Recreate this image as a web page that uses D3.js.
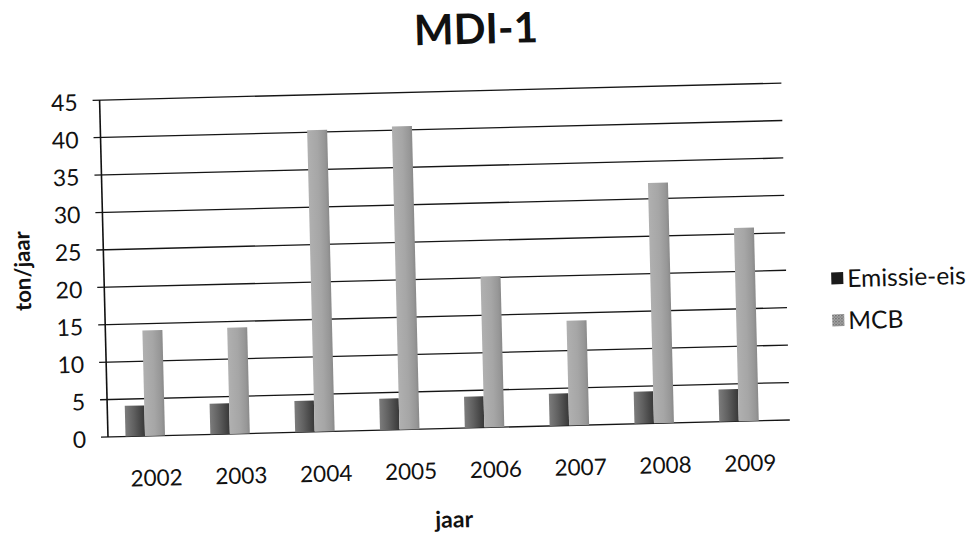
<!DOCTYPE html>
<html><head><meta charset="utf-8">
<script src="https://cdn.jsdelivr.net/npm/d3@7"></script>
<style>body{margin:0;background:#fff} text{font-family:Lato,'Open Sans',sans-serif;fill:#111}</style>
</head><body><svg id="c" width="977" height="534"></svg>
<script>
const years = ["2002","2003","2004","2005","2006","2007","2008","2009"];
const emissie = [4.1,4.1,4.2,4.2,4.2,4.3,4.3,4.3];
const mcb = [14.1,14.2,40.3,40.5,20.2,14.0,32.1,25.8];
const seriesNames = ["Emissie-eis","MCB"];
const yTicks = [0,5,10,15,20,25,30,35,40,45];

const svg = d3.select("#c");
const defs = svg.append("defs");
const g1 = defs.append("linearGradient").attr("id","gE");
[["0%","#7c7c7c"],["45%","#606060"],["100%","#383838"]].forEach(s=>g1.append("stop").attr("offset",s[0]).attr("stop-color",s[1]));
const g2 = defs.append("linearGradient").attr("id","gM");
[["0%","#b0b0b0"],["50%","#a6a6a6"],["85%","#979797"],["100%","#8a8a8a"]].forEach(s=>g2.append("stop").attr("offset",s[0]).attr("stop-color",s[1]));
const pat = defs.append("pattern").attr("id","pM").attr("width",3).attr("height",3).attr("patternUnits","userSpaceOnUse");
pat.append("rect").attr("width",3).attr("height",3).attr("fill","#bbb");
pat.append("rect").attr("width",1.5).attr("height",1.5).attr("fill","#555");
pat.append("rect").attr("x",1.5).attr("y",1.5).attr("width",1.5).attr("height",1.5).attr("fill","#777");

const root = svg.append("g").attr("transform","rotate(-1.43,108,437)");

const y = d3.scaleLinear().domain([0,45]).range([437,100]);
const x = d3.scaleBand().domain(years).range([102.6,781.4]);
const xs = d3.scaleBand().domain(seriesNames).range([-19.5,19.5]).padding(0);

// gridlines
root.append("g").selectAll("line").data(yTicks).join("line")
  .attr("x1",101).attr("x2",790)
  .attr("y1",d=>y(d)).attr("y2",d=>y(d))
  .attr("stroke","#151515").attr("stroke-width",1.3);
// axis line
root.append("line").attr("x1",108).attr("x2",108).attr("y1",y(45)).attr("y2",y(0))
  .attr("stroke","#111").attr("stroke-width",1.6);

// y tick labels
root.append("g").selectAll("text").data(yTicks).join("text")
  .attr("x",86).attr("y",d=>y(d)+1).attr("text-anchor","end")
  .attr("dominant-baseline","central").attr("font-size",23).text(d=>d);

// bars
const groups = root.append("g").selectAll("g").data(years).join("g")
  .attr("transform",d=>`translate(${x(d)+x.bandwidth()/2},0)`);
groups.append("rect")
  .attr("x",xs("Emissie-eis")).attr("width",xs.bandwidth())
  .attr("y",(d,i)=>y(emissie[i])).attr("height",(d,i)=>y(0)-y(emissie[i]))
  .attr("fill","url(#gE)");
groups.append("rect")
  .attr("x",xs("MCB")).attr("width",xs.bandwidth()+0.5)
  .attr("y",(d,i)=>y(mcb[i])).attr("height",(d,i)=>y(0)-y(mcb[i]))
  .attr("fill","url(#gM)");

// x labels
root.append("g").selectAll("text").data(years).join("text")
  .attr("x",d=>x(d)+x.bandwidth()/2+10.5).attr("y",487)
  .attr("text-anchor","middle").attr("font-size",22.5).text(d=>d);

// titles
root.append("text").attr("x",486).attr("y",53).attr("text-anchor","middle")
  .attr("font-size",42).attr("font-weight","bold").text("MDI-1");
root.append("text").attr("transform","translate(26,269) rotate(-90)")
  .attr("text-anchor","middle").attr("dominant-baseline","central")
  .attr("font-size",22).attr("font-weight","bold").text("ton/jaar");
root.append("text").attr("x",452).attr("y",536).attr("text-anchor","middle")
  .attr("font-size",23).attr("font-weight","bold").text("jaar");

// legend
const leg = root.append("g").selectAll("g").data(seriesNames).join("g")
  .attr("transform",(d,i)=>`translate(835,${297+i*42})`);
leg.append("rect").attr("x",0).attr("y",-6.5).attr("width",12).attr("height",12)
  .attr("fill",(d,i)=>i===0?"#1a1a1a":"url(#pM)");
leg.append("text").attr("x",16).attr("y",8.5).attr("font-size",24.5).text(d=>d);
</script></body></html>
